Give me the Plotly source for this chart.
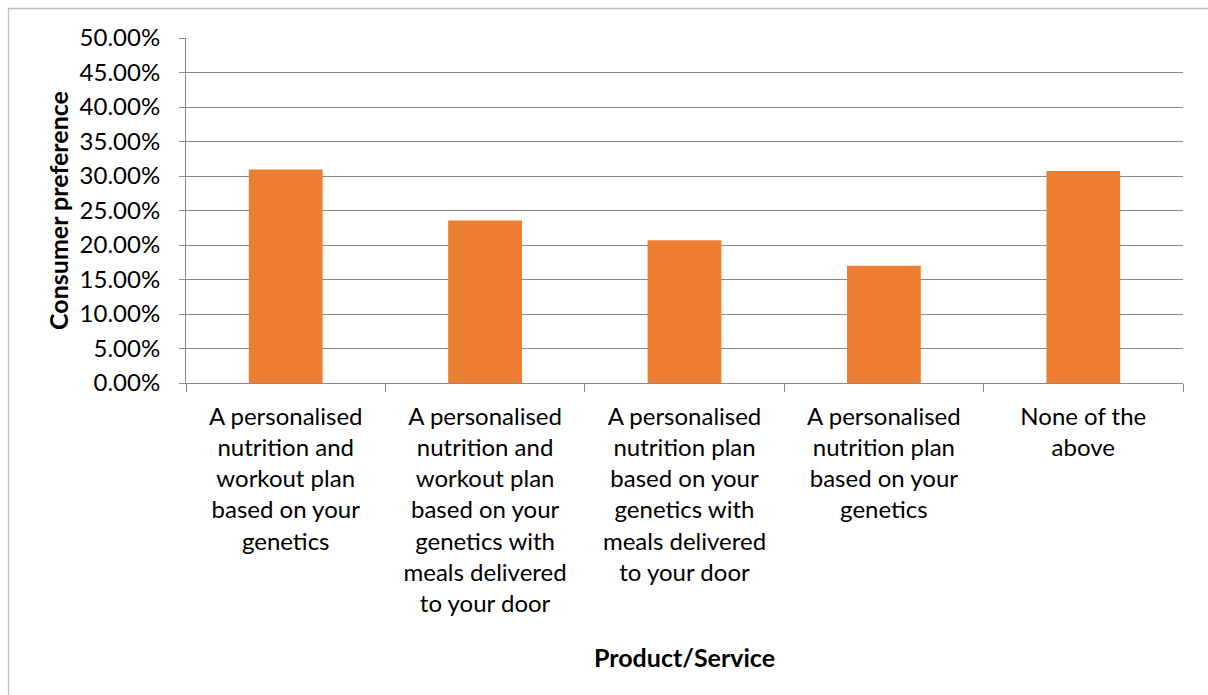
import plotly.graph_objects as go

# Survey results: share of consumers preferring each product/service
categories = [
    "A personalised<br>nutrition and<br>workout plan<br>based on your<br>genetics",
    "A personalised<br>nutrition and<br>workout plan<br>based on your<br>genetics with<br>meals delivered<br>to your door",
    "A personalised<br>nutrition plan<br>based on your<br>genetics with<br>meals delivered<br>to your door",
    "A personalised<br>nutrition plan<br>based on your<br>genetics",
    "None of the<br>above",
]
preference = [0.3095, 0.2355, 0.2068, 0.1700, 0.3072]

y_ticks = [0.0, 0.05, 0.10, 0.15, 0.20, 0.25, 0.30, 0.35, 0.40, 0.45, 0.50]

W, H = 1208, 695
ML, MR, MT, MB = 186, 25, 38, 312
FONT = "Lato"
GRID = "#898989"

fig = go.Figure(
    go.Bar(
        x=categories,
        y=preference,
        marker=dict(color="#ED7D31", line=dict(width=0)),
    )
)

# frame around the chart area (left and top edges visible)
pw, ph = W - ML - MR, H - MT - MB
bx0 = (8.5 - ML) / pw
by1 = (H - MB - 8.5) / ph
fig.add_shape(
    type="rect", xref="paper", yref="paper",
    x0=bx0, x1=(W + 20 - ML) / pw, y0=-(MB + 20) / ph, y1=by1,
    line=dict(color="#BFBFBF", width=1.3), fillcolor="rgba(0,0,0,0)", layer="below",
)

fig.update_layout(
    width=W, height=H,
    margin=dict(l=ML, r=MR, t=MT, b=MB, autoexpand=False),
    paper_bgcolor="white", plot_bgcolor="white",
    font=dict(family=FONT, color="#000000", size=24),
    bargap=0.63,
    showlegend=False,
)
fig.update_xaxes(
    type="category",
    showline=True, linecolor=GRID, linewidth=1,
    ticks="outside", tickson="boundaries", ticklen=8, tickcolor=GRID,
    tickfont=dict(size=24, family=FONT),
    ticklabelstandoff=12,
    showgrid=False,
    title=dict(text="<b>Product/Service</b>", font=dict(size=25, family=FONT), standoff=33),
    automargin=False,
)
fig.update_yaxes(
    range=[0, 0.5],
    tickvals=y_ticks, tickformat=".2%",
    showline=True, linecolor=GRID, linewidth=1,
    ticks="outside", ticklen=6, tickcolor=GRID,
    tickfont=dict(size=24, family=FONT),
    ticklabelstandoff=14,
    showgrid=True, gridcolor=GRID, gridwidth=1,
    zeroline=False,
    title=dict(text="<b>Consumer preference</b>", font=dict(size=25, family=FONT), standoff=3),
    automargin=False,
)

fig.write_html("out.html")
